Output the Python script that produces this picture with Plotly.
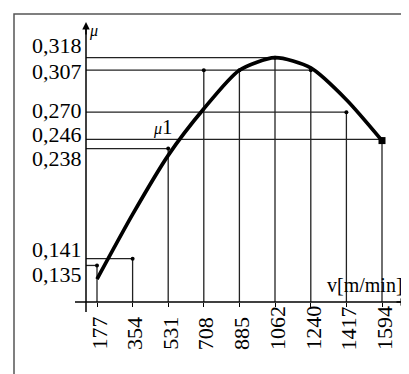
import plotly.graph_objects as go

# ---------------- data ----------------
speeds = [177, 354, 531, 708, 885, 1062, 1240, 1417, 1594]
speed_labels = ["177", "354", "531", "708", "885", "1062", "1240", "1417", "1594"]
mu_measured = [0.135, 0.141, 0.238, 0.307, 0.307, 0.318, 0.307, 0.270, 0.246]
mu1_curve = [0.123, 0.180, 0.232, 0.273, 0.307, 0.318, 0.309, 0.281, 0.245]
mu_levels = [0.318, 0.307, 0.270, 0.246, 0.238, 0.141, 0.135]
mu_level_labels = ["0,318", "0,307", "0,270", "0,246", "0,238", "0,141", "0,135"]

# ---------------- style ----------------
OFF = 8                      # page body margin
W, H = 409 - OFF, 374 - OFF
PL, PR, PT, PB = 86, 407, 24, 302   # plot area in page pixels
ML, MT = PL - OFF, PT - OFF
MR, MB = W - (PR - OFF), H - (PB - OFF)
PW, PH = PR - PL, PB - PT
XR = [122.3, 1718.3]
YR = [0.1028, 0.3477]
GUIDE = "#222222"
FONT = "Liberation Serif"
label_nudge = [12, -1, 2, 5, -10, 9, -9]   # vertical offsets (px) of the y labels


def px_x(p):
    return (p - PL) / PW


def px_y(p):
    return (PB - p) / PH


fig = go.Figure()

# vertical guides from the v axis up to each measured point
gx, gy = [], []
for x, v in zip(speeds, mu_measured):
    gx += [x, x, None]
    gy += [YR[0], v, None]
# horizontal guides from the mu axis to the farthest point of each level
for lev in mu_levels:
    xm = max(x for x, v in zip(speeds, mu_measured) if abs(v - lev) < 1e-9)
    gx += [XR[0], xm, None]
    gy += [lev, lev, None]
fig.add_trace(go.Scatter(x=gx, y=gy, mode="lines",
                         line=dict(color=GUIDE, width=1.3),
                         hoverinfo="skip", showlegend=False, cliponaxis=False))

fig.add_trace(go.Scatter(x=speeds, y=mu_measured, mode="markers",
                         marker=dict(color="black", size=4),
                         showlegend=False, cliponaxis=False))

fig.add_trace(go.Scatter(x=speeds, y=mu1_curve, mode="lines",
                         line=dict(color="black", width=3.7, shape="spline", smoothing=0.7),
                         showlegend=False, cliponaxis=False))
fig.add_trace(go.Scatter(x=speeds[-1:], y=mu1_curve[-1:], mode="markers",
                         marker=dict(color="black", size=7, symbol="square"),
                         showlegend=False, cliponaxis=False))

ann = []
for lev, lab, dy in zip(mu_levels, mu_level_labels, label_nudge):
    ann.append(dict(x=0, xref="paper", y=lev, yref="y", text=lab, showarrow=False,
                    xanchor="right", yanchor="middle", xshift=-2, yshift=dy,
                    font=dict(family=FONT, size=22, color="black")))
for x, lab in zip(speeds, speed_labels):
    ann.append(dict(x=x, xref="x", y=px_y(352), yref="paper", text=lab, showarrow=False,
                    textangle=-90, xanchor="center", yanchor="bottom", xshift=2,
                    font=dict(family=FONT, size=22, color="black")))
ann.append(dict(x=px_x(405), xref="paper", y=0, yref="paper", text="v[m/min]",
                showarrow=False, xanchor="right", yanchor="bottom", yshift=4,
                font=dict(family=FONT, size=20, color="black")))
ann.append(dict(x=0, xref="paper", y=px_y(31), yref="paper", text="<i>μ</i>",
                showarrow=False, xanchor="left", yanchor="middle", xshift=1,
                font=dict(family=FONT, size=16, color="black")))
ann.append(dict(x=px_x(163), xref="paper", y=px_y(127), yref="paper",
                text="<i>μ</i><span style='font-size:21px'>1</span>",
                showarrow=False, xanchor="center", yanchor="middle",
                font=dict(family=FONT, size=16, color="black")))
# axis arrows
ann.append(dict(x=0, xref="paper", y=px_y(22), yref="paper", text="", showarrow=True,
                ax=0, ay=14, arrowhead=2, arrowsize=1, arrowwidth=1.5, arrowcolor="black"))
ann.append(dict(x=px_x(409), xref="paper", y=0, yref="paper", text="", showarrow=True,
                ax=-14, ay=0, arrowhead=2, arrowsize=1, arrowwidth=1.5, arrowcolor="black"))

shapes = [
    dict(type="rect", xref="paper", yref="paper", x0=px_x(14), x1=1.3,
         y0=-0.6, y1=px_y(14), line=dict(color="#555555", width=1.5), layer="below"),
    dict(type="line", xref="paper", yref="paper", x0=px_x(75), x1=1, y0=0, y1=0,
         line=dict(color="black", width=1.5)),
    dict(type="line", xref="paper", yref="paper", x0=0, x1=0, y0=px_y(312), y1=1,
         line=dict(color="black", width=1.5)),
]

fig.update_layout(
    width=W, height=H,
    margin=dict(l=ML, r=MR, t=MT, b=MB, pad=0),
    paper_bgcolor="white", plot_bgcolor="white",
    showlegend=False,
    annotations=ann, shapes=shapes,
    xaxis=dict(range=XR, showgrid=False, zeroline=False, showline=False,
               tickvals=speeds, ticks="outside", ticklen=4, tickcolor="black",
               tickwidth=1.2, showticklabels=False, fixedrange=True),
    yaxis=dict(range=YR, showgrid=False, zeroline=False, showline=False,
               showticklabels=False, ticks="", fixedrange=True),
)

fig.write_html("out.html")
